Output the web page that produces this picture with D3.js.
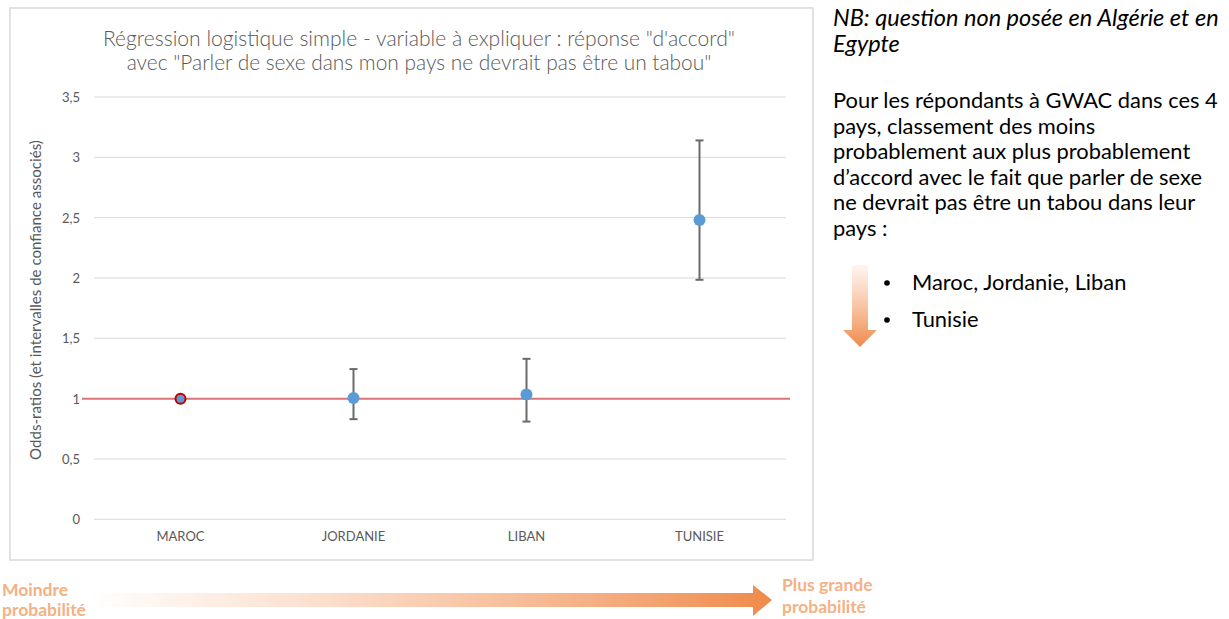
<!DOCTYPE html>
<html>
<head>
<meta charset="utf-8">
<script src="https://cdn.jsdelivr.net/npm/d3@7"></script>
<style>
  html, body { margin: 0; padding: 0; background: #fff; }
  svg { display: block; }
</style>
</head>
<body>
<svg id="chart" width="1229" height="619"></svg>
<script>
// ---- data ----
const categories = ["MAROC", "JORDANIE", "LIBAN", "TUNISIE"];
const oddsRatios = [1, 1.005, 1.035, 2.48];
const ciLower = [null, 0.83, 0.81, 1.985];
const ciUpper = [null, 1.245, 1.33, 3.14];
const referenceValue = 1;
const yTicks = [0, 0.5, 1, 1.5, 2, 2.5, 3, 3.5];
const titleLines = [
  "Régression logistique simple - variable à expliquer : réponse \"d'accord\"",
  "avec \"Parler de sexe dans mon pays ne devrait pas être un tabou\""
];
const yAxisTitle = "Odds-ratios (et intervalles de confiance associés)";
const noteLines = ["NB: question non posée en Algérie et en", "Egypte"];
const bodyLines = [
  "Pour les répondants à GWAC dans ces 4",
  "pays, classement des moins",
  "probablement aux plus probablement",
  "d’accord avec le fait que parler de sexe",
  "ne devrait pas être un tabou dans leur",
  "pays :"
];
const bulletItems = ["Maroc, Jordanie, Liban", "Tunisie"];
const leftArrowLabel = ["Moindre", "probabilité"];
const rightArrowLabel = ["Plus grande", "probabilité"];

// ---- drawing ----
const FONT = "Lato, 'Open Sans', sans-serif";
const svg = d3.select("#chart");
const grey = "#595959";

function fit(sel, target) {
  const node = sel.node();
  const fs = parseFloat(sel.attr("font-size"));
  const w = node.getComputedTextLength();
  if (w > 0) sel.attr("font-size", (fs * target / w).toFixed(2));
  return sel;
}
function fitSize(text, base, target, weight, style) {
  const tmp = svg.append("text").attr("font-family", FONT).attr("font-size", base)
    .attr("font-weight", weight || 400).attr("font-style", style || "normal").text(text);
  const w = tmp.node().getComputedTextLength(); tmp.remove();
  return base * target / w;
}

const defs = svg.append("defs");
const gH = defs.append("linearGradient").attr("id", "gradH").attr("x1", "0").attr("x2", "1").attr("y1", "0").attr("y2", "0");
gH.append("stop").attr("offset", "0").attr("stop-color", "#f4a06a").attr("stop-opacity", 0);
gH.append("stop").attr("offset", "0.35").attr("stop-color", "#f4a06a").attr("stop-opacity", 0.35);
gH.append("stop").attr("offset", "1").attr("stop-color", "#ef8a4a").attr("stop-opacity", 1);
const gV = defs.append("linearGradient").attr("id", "gradV").attr("x1", "0").attr("x2", "0").attr("y1", "0").attr("y2", "1");
gV.append("stop").attr("offset", "0").attr("stop-color", "#f4a06a").attr("stop-opacity", 0.1);
gV.append("stop").attr("offset", "1").attr("stop-color", "#ef8a4a").attr("stop-opacity", 1);

// chart frame
svg.append("rect").attr("x", 10).attr("y", 8).attr("width", 803).attr("height", 552)
  .attr("fill", "#fff").attr("stroke", "#d9d9d9").attr("stroke-width", 1.5);

// title
titleLines.forEach((t, i) => {
  const el = svg.append("text").attr("x", 419).attr("y", 46 + i * 24)
    .attr("text-anchor", "middle").attr("font-family", FONT).attr("font-weight", 300)
    .attr("font-size", 18).attr("fill", grey).text(t);
  fit(el, i === 0 ? 632 : 585);
});

// scales
const x = d3.scaleBand().domain(categories).range([94, 786]);
const y = d3.scaleLinear().domain([0, 3.5]).range([519.3, 97]);

// gridlines
svg.append("g").selectAll("line").data(yTicks).join("line")
  .attr("x1", 94).attr("x2", 786)
  .attr("y1", d => y(d)).attr("y2", d => y(d))
  .attr("stroke", "#d9d9d9").attr("stroke-width", 1);

// y axis labels
const yAxis = d3.axisLeft(y).tickValues(yTicks).tickSize(0).tickPadding(0)
  .tickFormat(d => String(d).replace(".", ","));
const gy = svg.append("g").attr("transform", "translate(80,0)").call(yAxis);
gy.select(".domain").remove();
gy.selectAll("text").attr("font-family", FONT).attr("font-size", 13).attr("fill", grey).attr("dy", "0.35em");

// x axis labels
const xAxis = d3.axisBottom(x).tickSize(0).tickPadding(0);
const gx = svg.append("g").attr("transform", "translate(0,536)").call(xAxis);
gx.select(".domain").remove();
gx.selectAll("text").attr("font-family", FONT).attr("font-size", 13).attr("fill", grey).attr("dy", "0.35em");

// y axis title
const yt = svg.append("text").attr("transform", "translate(41,300) rotate(-90)")
  .attr("text-anchor", "middle").attr("font-family", FONT).attr("font-size", 13)
  .attr("fill", grey).text(yAxisTitle);
fit(yt, 320);

// reference line
svg.append("line").attr("x1", 82).attr("x2", 790)
  .attr("y1", y(referenceValue)).attr("y2", y(referenceValue))
  .attr("stroke", "#db7676").attr("stroke-width", 2);

// error bars
const idx = d3.range(categories.length).filter(i => ciLower[i] != null);
const cx = i => x(categories[i]) + x.bandwidth() / 2;
const eb = svg.append("g").attr("stroke", "#6a6a6a").attr("stroke-width", 2);
eb.selectAll("line.v").data(idx).join("line").attr("class", "v")
  .attr("x1", cx).attr("x2", cx).attr("y1", i => y(ciLower[i])).attr("y2", i => y(ciUpper[i]));
eb.selectAll("line.t").data(idx).join("line").attr("class", "t")
  .attr("x1", i => cx(i) - 4).attr("x2", i => cx(i) + 4).attr("y1", i => y(ciUpper[i])).attr("y2", i => y(ciUpper[i]));
eb.selectAll("line.b").data(idx).join("line").attr("class", "b")
  .attr("x1", i => cx(i) - 4).attr("x2", i => cx(i) + 4).attr("y1", i => y(ciLower[i])).attr("y2", i => y(ciLower[i]));

// points
svg.append("g").selectAll("circle").data(d3.range(categories.length)).join("circle")
  .attr("cx", cx).attr("cy", i => y(oddsRatios[i]))
  .attr("r", i => ciLower[i] == null ? 5 : 6)
  .attr("fill", "#5b9bd5")
  .attr("stroke", i => ciLower[i] == null ? "#c00000" : "none")
  .attr("stroke-width", 2);

// right-side notes
const noteFs = fitSize(noteLines[0], 21, 386, 400, "italic");
noteLines.forEach((t, i) => {
  svg.append("text").attr("x", 833).attr("y", 26 + i * 26)
    .attr("font-family", FONT).attr("font-style", "italic").attr("font-size", noteFs)
    .attr("fill", "#000").text(t);
});
const bodyFs = fitSize(bodyLines[0], 21, 385, 400);
bodyLines.forEach((t, i) => {
  svg.append("text").attr("x", 833).attr("y", 108 + i * 25.6)
    .attr("font-family", FONT).attr("font-size", bodyFs).attr("fill", "#000").text(t);
});
bulletItems.forEach((t, i) => {
  svg.append("circle").attr("cx", 887).attr("cy", 283 + i * 37).attr("r", 2.8).attr("fill", "#000");
  svg.append("text").attr("x", 912).attr("y", 290 + i * 37)
    .attr("font-family", FONT).attr("font-size", bodyFs).attr("fill", "#000").text(t);
});

// down arrow
svg.append("path")
  .attr("d", "M852,265 L868,265 L868,330 L877,330 L860,347 L843,330 L852,330 Z")
  .attr("fill", "url(#gradV)");

// bottom arrow
svg.append("path")
  .attr("d", "M88,593 L753,593 L753,585 L772,600 L753,616 L753,607 L88,607 Z")
  .attr("fill", "url(#gradH)");

const orange = "#f4b183";
const lblFs = fitSize("probabilité", 15, 84, 700);
leftArrowLabel.forEach((t, i) => {
  svg.append("text").attr("x", 2).attr("y", 596 + i * 20)
    .attr("font-family", FONT).attr("font-weight", 700).attr("font-size", lblFs)
    .attr("fill", orange).text(t);
});
rightArrowLabel.forEach((t, i) => {
  svg.append("text").attr("x", 782).attr("y", 591 + i * 22)
    .attr("font-family", FONT).attr("font-weight", 700).attr("font-size", lblFs)
    .attr("fill", orange).text(t);
});
</script>
</body>
</html>
